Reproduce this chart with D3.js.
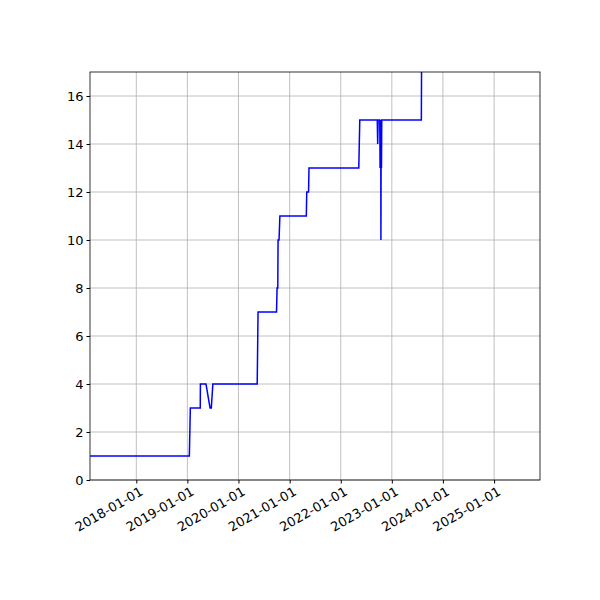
<!DOCTYPE html>
<html><head><meta charset="utf-8">
<script src="https://cdn.jsdelivr.net/npm/d3@7"></script>
<style>body{margin:0;background:#fff}text{font-family:"DejaVu Sans",sans-serif}</style>
</head><body><div id="chart"></div>
<script>
// step data
var dates = ["2017-02-05","2019-01-15","2019-01-22","2019-04-03","2019-04-04","2019-05-14","2019-06-12","2019-06-21","2019-07-02",
  "2020-05-14","2020-05-20","2020-09-29","2020-10-03","2020-10-08","2020-10-10","2020-10-17","2020-10-23",
  "2021-04-30","2021-05-03","2021-05-16","2021-05-19","2022-05-10","2022-05-17",
  "2022-09-19","2022-09-22","2022-09-25","2022-10-07","2022-10-09","2022-10-14","2022-10-15","2022-10-17","2022-10-19","2022-10-21",
  "2023-07-31","2023-08-02"];
var values = [1,1,3,3,4,4,3,3,4,
  4,7,7,8,8,10,10,11,
  11,12,12,13,13,15,
  15,14,15,15,13,15,10,15,13,15,
  15,18];
var yTicks = [0,2,4,6,8,10,12,14,16];
var xTicks = ["2018-01-01","2019-01-01","2020-01-01","2021-01-01","2022-01-01","2023-01-01","2024-01-01","2025-01-01"];

var parse = d3.timeParse("%Y-%m-%d");
var data = dates.map(function(d, i) { return {date: parse(d), value: values[i]}; });

var margin = {top: 72, right: 60, bottom: 120, left: 90};
var width = 600 - margin.left - margin.right;
var height = 600 - margin.top - margin.bottom;

var svg = d3.select("#chart").append("svg").attr("width", 600).attr("height", 600);
var g = svg.append("g").attr("transform", `translate(${margin.left},${margin.top})`);

var x = d3.scaleTime().domain([parse("2017-02-04"), parse("2025-11-25")]).range([0, width]);
var y = d3.scaleLinear().domain([0, 17]).range([height, 0]);

// grid
g.selectAll(".gx").data(xTicks).enter().append("line")
  .attr("x1", d => x(parse(d))).attr("x2", d => x(parse(d)))
  .attr("y1", 0).attr("y2", height).attr("stroke", "#b0b0b0").attr("stroke-width", 0.8);
g.selectAll(".gy").data(yTicks).enter().append("line")
  .attr("x1", 0).attr("x2", width)
  .attr("y1", d => y(d)).attr("y2", d => y(d)).attr("stroke", "#b0b0b0").attr("stroke-width", 0.8);

g.append("defs").append("clipPath").attr("id", "clip")
  .append("rect").attr("width", width).attr("height", height);

var line = d3.line().x(d => x(d.date)).y(d => y(d.value));
g.append("path").datum(data).attr("clip-path", "url(#clip)")
  .attr("fill", "none").attr("stroke", "blue").attr("stroke-width", 1.5).attr("d", line);

var xAxis = g.append("g").attr("transform", `translate(0,${height})`)
  .call(d3.axisBottom(x).tickValues(xTicks.map(parse)).tickFormat(d3.timeFormat("%Y-%m-%d")).tickSize(3.5).tickSizeOuter(0));
xAxis.selectAll("text").attr("font-size", 13).attr("fill", "#000")
  .attr("text-anchor", "end").attr("x", 0).attr("y", 0).attr("dx", "0.2em").attr("dy", "0.75em")
  .attr("transform", "translate(0,7) rotate(-30)");

var yAxis = g.append("g")
  .call(d3.axisLeft(y).tickValues(yTicks).tickSize(3.5).tickSizeOuter(0));
yAxis.selectAll("text").attr("font-size", 13).attr("fill", "#000");

svg.selectAll(".domain").remove();
g.append("rect").attr("width", width).attr("height", height)
  .attr("fill", "none").attr("stroke", "#000").attr("stroke-width", 0.8);
</script></body></html>
